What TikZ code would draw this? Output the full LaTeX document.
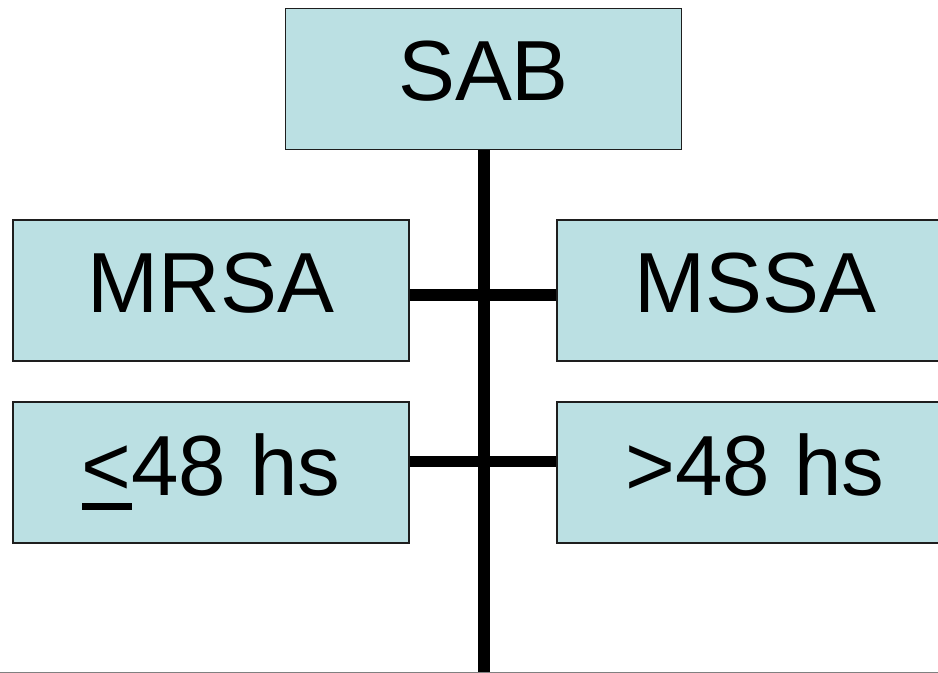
\documentclass[tikz,border=0pt]{standalone}
\usepackage{fontspec}
\setmainfont{Liberation Sans}
\definecolor{boxfill}{RGB}{187,224,227}
\definecolor{boxline}{RGB}{30,30,30}
\tikzset{
  box/.style={draw=boxline, line width=1.1pt, fill=boxfill, rectangle, inner sep=0pt,
              minimum width=297pt, minimum height=106pt},
  lbl/.style={anchor=base, inner sep=0pt, font=\fontsize{64}{70}\selectfont},
  bar/.style={line width=9pt, black},
}
\begin{document}
\begin{tikzpicture}[x=0.75pt, y=-0.75pt]
\clip (0,0) rectangle (938,673);
\fill[white] (0,0) rectangle (938,673);
% connector helpers
\coordinate (bot) at (483.5,673);
\coordinate (h1) at (483.5,295);
\coordinate (h2) at (483.5,461.5);
% boxes
\node[box] (sab) at (483.5,79) {};
\node[box] (mrsa) at (211,290.5) {};
\node[box] (mssa) at (755,290.5) {};
\node[box] (le) at (211,472.5) {};
\node[box] (gt) at (755,472.5) {};
% connectors
\draw[bar] (sab.south) -- (bot);
\draw[bar, line width=8.5pt] (mrsa.east |- h1) -- (mssa.west |- h1);
\draw[bar, line width=8.5pt] (le.east |- h2) -- (gt.west |- h2);
% labels
\node[lbl] (tsab) at (483.5,101) {SAB};
\node[lbl] (tmrsa) at (211,313) {MRSA};
\node[lbl] (tmssa) at (755,313) {MSSA};
\node[lbl] (tle) at (211,495) {\rlap{\raisebox{-11.6pt}{\rule{37.4pt}{5.6pt}}}<48 hs};
\node[lbl] (tgt) at (755,495) {>48 hs};
% bottom rule
\draw[gray, line width=0.9pt] (0,672.4) -- (938,672.4);
\end{tikzpicture}
\end{document}
